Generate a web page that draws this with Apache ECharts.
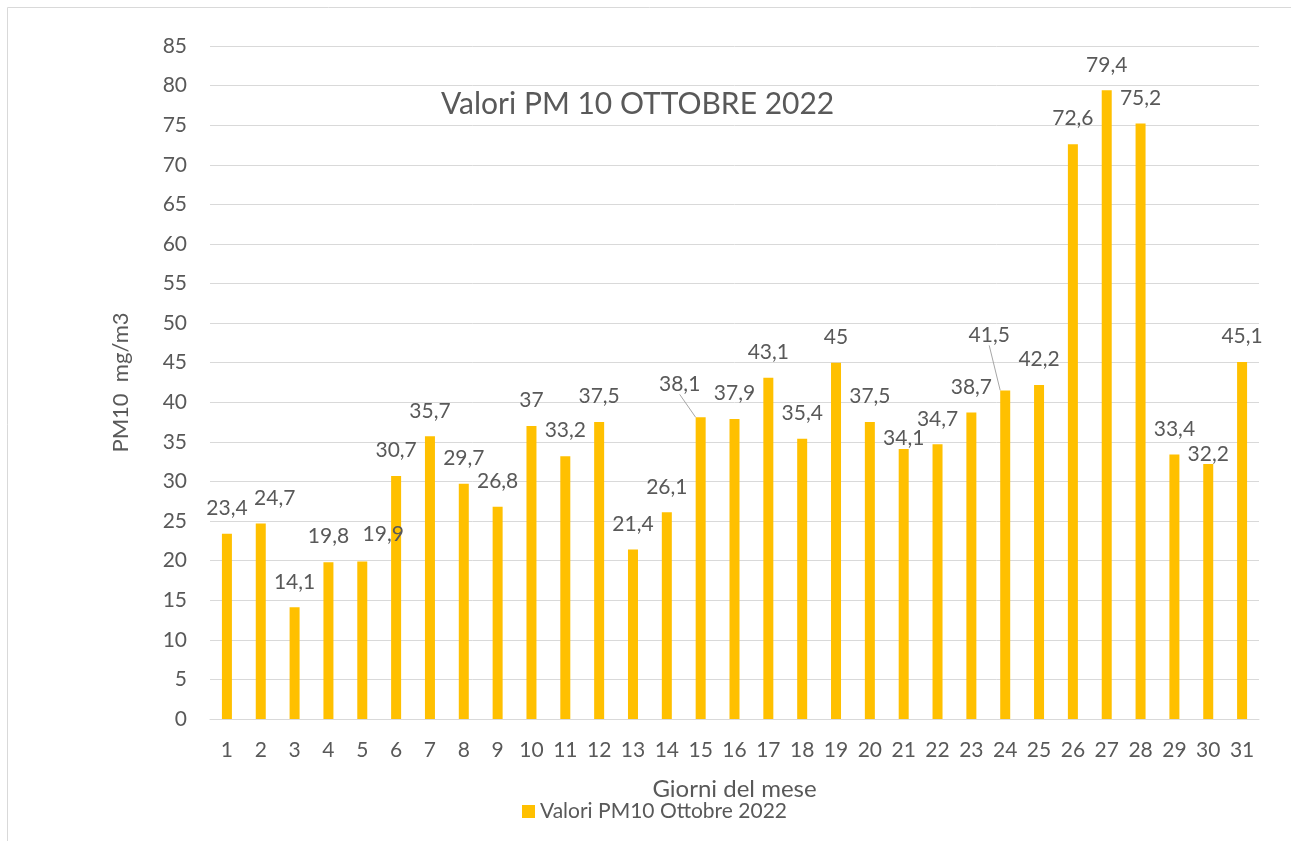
<!DOCTYPE html>
<html>
<head>
<meta charset="utf-8">
<script src="https://cdn.jsdelivr.net/npm/echarts@6/dist/echarts.min.js"></script>
<style>
html,body{margin:0;padding:0;background:#fff;}
#chart{width:1291px;height:841px;}
</style>
</head>
<body>
<div id="chart"></div>
<script>
const days = ['1','2','3','4','5','6','7','8','9','10','11','12','13','14','15','16','17','18','19','20','21','22','23','24','25','26','27','28','29','30','31'];
const pm10 = [23.4,24.7,14.1,19.8,19.9,30.7,35.7,29.7,26.8,37,33.2,37.5,21.4,26.1,38.1,37.9,43.1,35.4,45,37.5,34.1,34.7,38.7,41.5,42.2,72.6,79.4,75.2,33.4,32.2,45.1];
const seriesName = 'Valori PM10 Ottobre 2022';
const titleText = 'Valori PM 10 OTTOBRE 2022';
const xName = 'Giorni del mese';
const yName = 'PM10  mg/m3';

// label shifts (dx, dy) relative to the default label position, and leader-line flags
const labelShift = {1:[14,0], 4:[21,-2], 14:[-21,-8], 20:[0,15], 23:[-16,-30], 29:[0,16]};
const leaderIdx = [14, 23];

const TXT = '#595959';
const FONT = 'Lato';

const data = pm10.map((v, i) => leaderIdx.includes(i)
  ? {value: v, labelLine: {show: true, lineStyle: {color: '#A6A6A6', width: 1}}}
  : v);

const chart = echarts.init(document.getElementById('chart'));
chart.setOption({
  animation: false,
  textStyle: {fontFamily: FONT, color: TXT},
  title: {
    text: titleText, left: 436, top: 84,
    textStyle: {fontFamily: FONT, fontSize: 30, fontWeight: 'normal', color: TXT}
  },
  graphic: [{
    type: 'rect', shape: {x: 7.5, y: 7.5, width: 1320, height: 900},
    style: {fill: 'none', stroke: '#D9D9D9', lineWidth: 1}, silent: true
  }],
  legend: {
    data: [seriesName], left: 517, top: 796,
    icon: 'rect', itemWidth: 13, itemHeight: 13, itemGap: 10,
    textStyle: {fontFamily: FONT, fontSize: 21, color: TXT}
  },
  grid: {left: 210, right: 32, top: 46, bottom: 122, containLabel: false},
  xAxis: {
    type: 'category', data: days,
    name: xName, nameLocation: 'middle', nameGap: 58,
    nameTextStyle: {fontFamily: FONT, fontSize: 24, color: TXT},
    axisLine: {lineStyle: {color: '#D9D9D9', width: 1}},
    axisTick: {show: false},
    axisLabel: {margin: 21, fontFamily: FONT, fontSize: 21, color: TXT}
  },
  yAxis: {
    type: 'value', min: 0, max: 85, interval: 5,
    name: yName, nameLocation: 'middle', nameGap: 78, nameRotate: 90,
    nameTextStyle: {fontFamily: FONT, fontSize: 22, color: TXT},
    axisLine: {show: false}, axisTick: {show: false},
    axisLabel: {margin: 23, fontFamily: FONT, fontSize: 21, color: TXT},
    splitLine: {lineStyle: {color: '#D9D9D9', width: 1}}
  },
  series: [{
    name: seriesName, type: 'bar', data: data, barWidth: 10,
    itemStyle: {color: '#FFC000'},
    label: {
      show: true, position: 'top', distance: 15,
      fontFamily: FONT, fontSize: 21, color: TXT,
      formatter: p => String(p.value).replace('.', ',')
    },
    labelLayout: function (params) {
      const s = labelShift[params.dataIndex];
      return s ? {dx: s[0], dy: s[1]} : {};
    }
  }]
});
</script>
</body>
</html>
